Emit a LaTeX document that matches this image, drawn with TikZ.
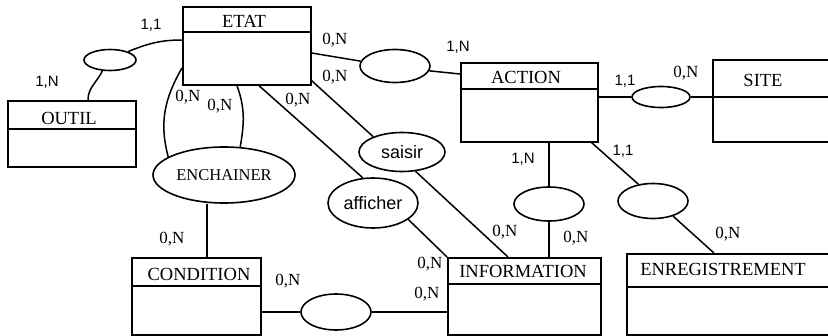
\documentclass[tikz,border=0pt]{standalone}
\usepackage{fontspec}
\setmainfont{Liberation Serif}
\newfontfamily\arialfont{Liberation Sans}
\usetikzlibrary{calc,shapes.geometric}
\tikzset{
  entity/.style={draw,line width=1.7pt,inner sep=0pt,anchor=north west},
  rel/.style={draw,ellipse,line width=1.6pt,inner sep=0pt},
  link/.style={line width=1.5pt},
  title/.style={font=\fontsize{18.5}{20}\selectfont,inner sep=0pt},
  relname/.style={font=\arialfont\fontsize{18}{20}\selectfont},
  cardz/.style={font=\fontsize{17}{19}\selectfont,inner sep=0pt},
  cardo/.style={font=\arialfont\fontsize{15}{16}\selectfont,inner sep=0pt}
}

\begin{document}
\begin{tikzpicture}[x=1pt,y=1pt]
  \useasboundingbox (0,0) rectangle (828,-335);
  \clip (0,0) rectangle (828,-335);

  % entities
  \node[entity,minimum width=128pt,minimum height=78pt] (etat) at (182,-6) {};
  \node[entity,minimum width=128pt,minimum height=66pt] (outil) at (7,-100) {};
  \node[entity,minimum width=137pt,minimum height=79pt] (action) at (460,-62) {};
  \node[entity,minimum width=140pt,minimum height=82pt] (site) at (712,-59) {};
  \node[entity,minimum width=129pt,minimum height=77pt] (condition) at (131,-257) {};
  \node[entity,minimum width=153pt,minimum height=77pt] (information) at (447,-257) {};
  \node[entity,minimum width=220pt,minimum height=81pt] (enreg) at (626,-253) {};
  \draw[link] ($(etat.north west)+(0,-26)$) -- ($(etat.north east)+(0,-26)$);
  \draw[link] ($(outil.north west)+(0,-29)$) -- ($(outil.north east)+(0,-29)$);
  \draw[link] ($(action.north west)+(0,-27)$) -- ($(action.north east)+(0,-27)$);
  \draw[link] ($(site.north west)+(0,-38)$) -- ($(site.north east)+(0,-38)$);
  \draw[link] ($(condition.north west)+(0,-29)$) -- ($(condition.north east)+(0,-29)$);
  \draw[link] ($(information.north west)+(0,-27)$) -- ($(information.north east)+(0,-27)$);
  \draw[link] ($(enreg.north west)+(0,-34)$) -- ($(enreg.north east)+(0,-34)$);
  \node[title] (etatT) at (244,-21) {ETAT};
  \node[title] (outilT) at (69,-118) {OUTIL};
  \node[title] (actionT) at (526,-77) {ACTION};
  \node[title] (siteT) at (763,-80) {SITE};
  \node[title] (conditionT) at (199,-274) {CONDITION};
  \node[title] (informationT) at (523,-271) {INFORMATION};
  \node[title] (enregT) at (723,-269) {ENREGISTREMENT};

  % relations
  \node[rel,minimum width=52pt,minimum height=21pt] (rOutil) at (110,-60) {};
  \node[rel,minimum width=70pt,minimum height=33pt] (rAction) at (395,-66) {};
  \node[rel,minimum width=58pt,minimum height=21pt] (rSite) at (661,-97) {};
  \node[rel,relname,minimum width=86pt,minimum height=39pt] (saisir) at (402,-152) {saisir};
  \node[rel,title,minimum width=142pt,minimum height=56pt,font=\fontsize{16.5}{18}\selectfont] (enchainer) at (224,-175) {ENCHAINER};
  \node[rel,relname,minimum width=90pt,minimum height=50pt] (afficher) at (373,-203) {afficher};
  \node[rel,minimum width=70pt,minimum height=36pt] (rCond) at (336,-312) {};
  \node[rel,minimum width=70pt,minimum height=34pt] (rInfo) at (549,-204) {};
  \node[rel,minimum width=70pt,minimum height=35pt] (rEnreg) at (653,-201) {};
  \coordinate (cE) at ($(condition.north west)+(76,0)$);

  % links
  \draw[link] ($(etat.north west)+(0,-34)$) to[out=180,in=22] (rOutil.25);
  \draw[link] (rOutil.235) to[out=245,in=90] ($(outil.north west)+(81,0)$);
  \draw[link] ($(etat.north west)+(0,-62)$) to[out=240,in=105] (enchainer.162);
  \draw[link] ($(etat.south west)+(55,0)$) to[out=-70,in=80] (enchainer.60);
  \draw[link] (enchainer.south -| cE) -- (cE);
  \draw[link] ($(etat.north east)+(0,-47)$) -- (rAction.172);
  \draw[link] (rAction.-8) -- ($(action.north west)+(0,-12)$);
  \draw[link] ($(etat.south east)+(0,5)$) -- (saisir.152);
  \draw[link] (saisir.-55) -- ($(information.north west)+(61,0)$);
  \draw[link] ($(etat.south west)+(77,0)$) -- (afficher.112);
  \draw[link] (afficher.-25) -- (information.north west);
  \draw[link] (rInfo.north |- action.south) -- (rInfo.north);
  \draw[link] (rInfo.south) -- (rInfo.south |- information.north);
  \draw[link] ($(action.south east)+(-7,0)$) -- (rEnreg.131);
  \draw[link] (rEnreg.-37) -- ($(enreg.north west)+(88,0)$);
  \draw[link] (rSite.west -| action.east) -- (rSite.west);
  \draw[link] (rSite.east) -- (rSite.east -| site.west);
  \draw[link] (rCond.west -| condition.east) -- (rCond.west);
  \draw[link] (rCond.east) -- (rCond.east -| information.west);

  % cardinalities
  \node[cardo] (k1) at (151,-25) {1,1};
  \node[cardo] (k2) at (47,-82) {1,N};
  \node[cardo] (k3) at (458,-47) {1,N};
  \node[cardo] (k4) at (625,-81) {1,1};
  \node[cardo] (k5) at (523,-159) {1,N};
  \node[cardo] (k6) at (623,-151) {1,1};
  \node[cardz] (z1) at (188,-97) {0,N};
  \node[cardz] (z2) at (220,-106) {0,N};
  \node[cardz] (z3) at (298,-100) {0,N};
  \node[cardz] (z4) at (335,-40) {0,N};
  \node[cardz] (z5) at (335,-77) {0,N};
  \node[cardz] (z6) at (686,-73) {0,N};
  \node[cardz] (z7) at (172,-239) {0,N};
  \node[cardz] (z8) at (288,-281) {0,N};
  \node[cardz] (z9) at (430,-264) {0,N};
  \node[cardz] (z10) at (427,-294) {0,N};
  \node[cardz] (z11) at (505,-232) {0,N};
  \node[cardz] (z12) at (576,-238) {0,N};
  \node[cardz] (z13) at (728,-234) {0,N};
\end{tikzpicture}
\end{document}
